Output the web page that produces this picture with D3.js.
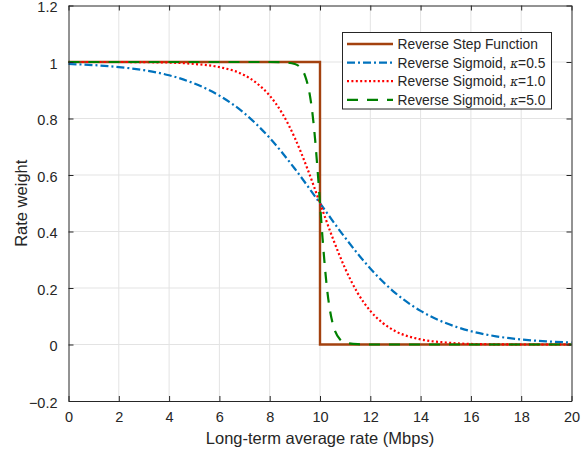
<!DOCTYPE html>
<html>
<head>
<meta charset="utf-8">
<script src="https://cdn.jsdelivr.net/npm/d3@7"></script>
<style>
  body { margin: 0; background: #fff; }
  text { font-family: "Liberation Sans", Arial, Helvetica, sans-serif; fill: #262626; }
</style>
</head>
<body>
<svg id="chart"></svg>
<script>
// values
var xTicks = [0, 2, 4, 6, 8, 10, 12, 14, 16, 18, 20];
var yTicks = [-0.2, 0, 0.2, 0.4, 0.6, 0.8, 1, 1.2];

var stepX = [0, 10, 10, 20];
var stepY = [1, 1, 0, 0];

var sig05X = [0, 1, 2, 3, 4, 5, 6, 7, 8, 9, 10, 11, 12, 13, 14, 15, 16, 17, 18, 19, 20];
var sig05Y = [0.993, 0.989, 0.982, 0.971, 0.953, 0.924, 0.881, 0.818, 0.731, 0.622, 0.5,
              0.378, 0.269, 0.182, 0.119, 0.076, 0.047, 0.029, 0.018, 0.011, 0.007];

var sig10X = [0, 2, 4, 5, 6, 7, 7.5, 8, 8.5, 9, 9.5, 10, 10.5, 11, 11.5, 12, 12.5, 13, 14, 15, 16, 18, 20];
var sig10Y = [1, 1, 0.998, 0.993, 0.982, 0.953, 0.924, 0.881, 0.818, 0.731, 0.622, 0.5,
              0.378, 0.269, 0.182, 0.119, 0.076, 0.047, 0.018, 0.007, 0.002, 0, 0];

var sig50X = [0, 8, 8.5, 9, 9.2, 9.4, 9.5, 9.6, 9.7, 9.8, 9.9, 10, 10.1, 10.2, 10.3, 10.4, 10.5, 10.6, 10.8, 11, 11.5, 12, 20];
var sig50Y = [1, 1, 0.999, 0.993, 0.982, 0.953, 0.924, 0.881, 0.818, 0.731, 0.622, 0.5,
              0.378, 0.269, 0.182, 0.119, 0.076, 0.047, 0.018, 0.007, 0.001, 0, 0];

var seriesNames = ["Reverse Step Function", "Reverse Sigmoid, ", "Reverse Sigmoid, ", "Reverse Sigmoid, "];
var kappaLabels = [null, "=0.5", "=1.0", "=5.0"];

var w = 582, h = 456;
var padL = 68.5, padR = 571.5, padT = 5.5, padB = 401;

var svg = d3.select("#chart").attr("width", w).attr("height", h);

var x = d3.scaleLinear().domain([0, 20]).range([padL, padR]);
var y = d3.scaleLinear().domain([-0.2, 1.2]).range([padB, padT]);

// grid
svg.append("g").selectAll("line")
  .data(xTicks.slice(1, -1))
  .enter().append("line")
    .attr("x1", function(d){return x(d);}).attr("x2", function(d){return x(d);})
    .attr("y1", padT).attr("y2", padB)
    .attr("stroke", "#e3e3e3").attr("stroke-width", 1);
svg.append("g").selectAll("line")
  .data(yTicks.slice(1, -1))
  .enter().append("line")
    .attr("y1", function(d){return y(d);}).attr("y2", function(d){return y(d);})
    .attr("x1", padL).attr("x2", padR)
    .attr("stroke", "#e3e3e3").attr("stroke-width", 1);

// curves
var line = d3.line()
  .x(function(d){return x(d[0]);})
  .y(function(d){return y(d[1]);});
var smooth = d3.line()
  .x(function(d){return x(d[0]);})
  .y(function(d){return y(d[1]);})
  .curve(d3.curveMonotoneX);

var series = [
  {pts: d3.zip(stepX, stepY), gen: line, color: "#a3410f", dash: null, sw: 2.4},
  {pts: d3.zip(sig05X, sig05Y), gen: smooth, color: "#0072bd", dash: "8,3,2,3", sw: 2.2},
  {pts: d3.zip(sig10X, sig10Y), gen: smooth, color: "#ff0000", dash: "2,2.4", sw: 2.2},
  {pts: d3.zip(sig50X, sig50Y), gen: smooth, color: "#008000", dash: "11,9", sw: 2.2}
];

svg.append("g").selectAll("path")
  .data(series)
  .enter().append("path")
    .attr("d", function(d){return d.gen(d.pts);})
    .attr("fill", "none")
    .attr("stroke", function(d){return d.color;})
    .attr("stroke-width", function(d){return d.sw;})
    .attr("stroke-dasharray", function(d){return d.dash;});

// axes, ticks inside
var xAxis = svg.append("g").attr("transform", `translate(0,${padB})`)
  .call(d3.axisBottom(x).tickValues(xTicks).tickSizeInner(-5).tickSizeOuter(0).tickPadding(11));
var yAxis = svg.append("g").attr("transform", `translate(${padL},0)`)
  .call(d3.axisLeft(y).tickValues(yTicks).tickFormat(d3.format("")).tickSizeInner(-5).tickSizeOuter(0).tickPadding(11));
svg.append("g").attr("transform", `translate(0,${padT})`)
  .call(d3.axisTop(x).tickValues(xTicks).tickSizeInner(-5).tickSizeOuter(0).tickFormat(""));
svg.append("g").attr("transform", `translate(${padR},0)`)
  .call(d3.axisRight(y).tickValues(yTicks).tickSizeInner(-5).tickSizeOuter(0).tickFormat(""));
svg.selectAll(".domain, .tick line").attr("stroke", "#262626");
svg.selectAll(".tick text").attr("font-size", 14.5).attr("fill", "#262626")
  .style("font-family", "'Liberation Sans', Arial, sans-serif");
yAxis.selectAll(".tick text").attr("dy", "0.44em");

// axis labels
svg.append("text")
  .attr("x", (padL + padR) / 2).attr("y", 444)
  .attr("text-anchor", "middle").attr("font-size", 16.5)
  .text("Long-term average rate (Mbps)");
svg.append("text")
  .attr("transform", `translate(27,${(padT + padB) / 2}) rotate(-90)`)
  .attr("text-anchor", "middle").attr("font-size", 16.5)
  .text("Rate weight");

// legend
var lg = svg.append("g");
lg.append("rect")
  .attr("x", 342.5).attr("y", 32.5).attr("width", 209).attr("height", 76.5)
  .attr("fill", "#fff").attr("stroke", "#262626").attr("stroke-width", 1);
var rows = lg.selectAll("g.row")
  .data(series)
  .enter().append("g")
    .attr("transform", function(d, i){return `translate(0,${44 + i * 18.6})`;});
rows.append("line")
  .attr("x1", 347).attr("x2", 393).attr("y1", 0).attr("y2", 0)
  .attr("stroke", function(d){return d.color;})
  .attr("stroke-width", function(d){return d.sw;})
  .attr("stroke-dasharray", function(d){return d.dash;});
var labels = rows.append("text")
  .attr("x", 397.5).attr("y", 0).attr("dy", "0.36em")
  .attr("font-size", 13.8)
  .text(function(d, i){return seriesNames[i];});
labels.filter(function(d, i){return kappaLabels[i];})
  .append("tspan").attr("font-style", "italic").attr("font-family", "'DejaVu Serif', serif")
  .attr("font-size", 12).text("\u03ba");
labels.filter(function(d, i){return kappaLabels[i];})
  .append("tspan").text(function(d, i){return kappaLabels[i + 1];});
</script>
</body>
</html>
